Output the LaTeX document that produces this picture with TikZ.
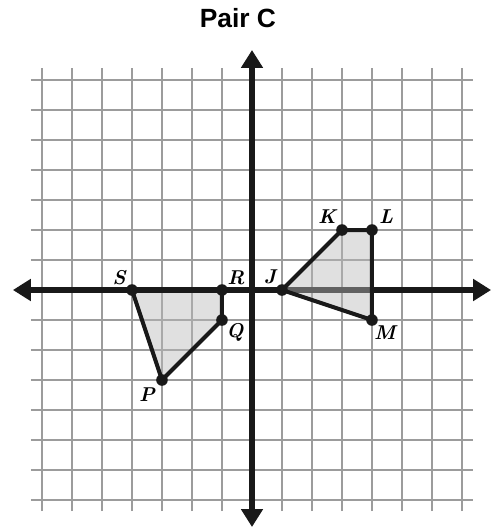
\documentclass[tikz,border=0pt]{standalone}
\usepackage{fontspec}
\newfontfamily\titlefont{Liberation Sans}
\usetikzlibrary{arrows.meta}
\definecolor{gridgray}{HTML}{9C9C9C}
\definecolor{shade}{gray}{0.733}
\tikzset{
  gridline/.style={draw=gridgray,line width=1.7pt},
  axisline/.style={draw=black!90,line width=5.4pt,{Triangle[width=20pt,length=17pt]}-{Triangle[width=20pt,length=17pt]}},
  edge/.style={draw=black!90,line width=3.8pt,line join=round,line cap=round},
  shaded/.style={fill=shade,opacity=0.45},
  vertex/.style={circle,fill=black!90,inner sep=0pt,minimum size=11pt},
  lbl/.style={font=\fontsize{19}{21}\selectfont\bfseries\itshape,inner sep=0pt},
  titlestyle/.style={font=\titlefont\bfseries\fontsize{25}{30}\selectfont,inner sep=0pt}
}
\begin{document}
\begin{tikzpicture}[x=1cm,y=1cm]
\useasboundingbox (-8.4,-7.9) rectangle (7.967,9.667);
% grid
\foreach \i in {-7,...,7} {
  \draw[gridline] (-7.37,\i) -- (7.37,\i);
  \draw[gridline] (\i,-7.37) -- (\i,7.4);
}
% points
\coordinate (S) at (-4,0);
\coordinate (R) at (-1,0);
\coordinate (Q) at (-1,-1);
\coordinate (P) at (-3,-3);
\coordinate (J) at (1,0);
\coordinate (K) at (3,2);
\coordinate (L) at (4,2);
\coordinate (M) at (4,-1);
% first shape fill
\fill[shaded] (S) -- (R) -- (Q) -- (P) -- cycle;
% axes
\coordinate (xl) at (-7.97,0);
\coordinate (xr) at (7.97,0);
\coordinate (yb) at (0,-7.9);
\coordinate (yt) at (0,8);
\draw[axisline] (xl) -- (xr);
\draw[axisline] (yb) -- (yt);
% second shape fill
\fill[shaded] (J) -- (K) -- (L) -- (M) -- cycle;
% edges
\draw[edge] (S) -- (R) -- (Q) -- (P) -- cycle;
\draw[edge] (J) -- (K) -- (L) -- (M) -- cycle;
% vertices
\foreach \p in {S,R,Q,P,J,K,L,M} \node[vertex] (v\p) at (\p) {};
% labels
\node[lbl] (lS) at (-4.43,0.42) {S};
\node[lbl] (lR) at (-0.53,0.42) {R};
\node[lbl] (lQ) at (-0.57,-1.4) {Q};
\node[lbl] (lP) at (-3.5,-3.5) {P};
\node[lbl] (lJ) at (0.6,0.45) {J};
\node[lbl] (lK) at (2.5,2.43) {K};
\node[lbl] (lL) at (4.47,2.43) {L};
\node[lbl] (lM) at (4.43,-1.43) {M};
% title
\node[titlestyle] (title) at (-0.47,9.07) {Pair C};
\end{tikzpicture}
\end{document}
